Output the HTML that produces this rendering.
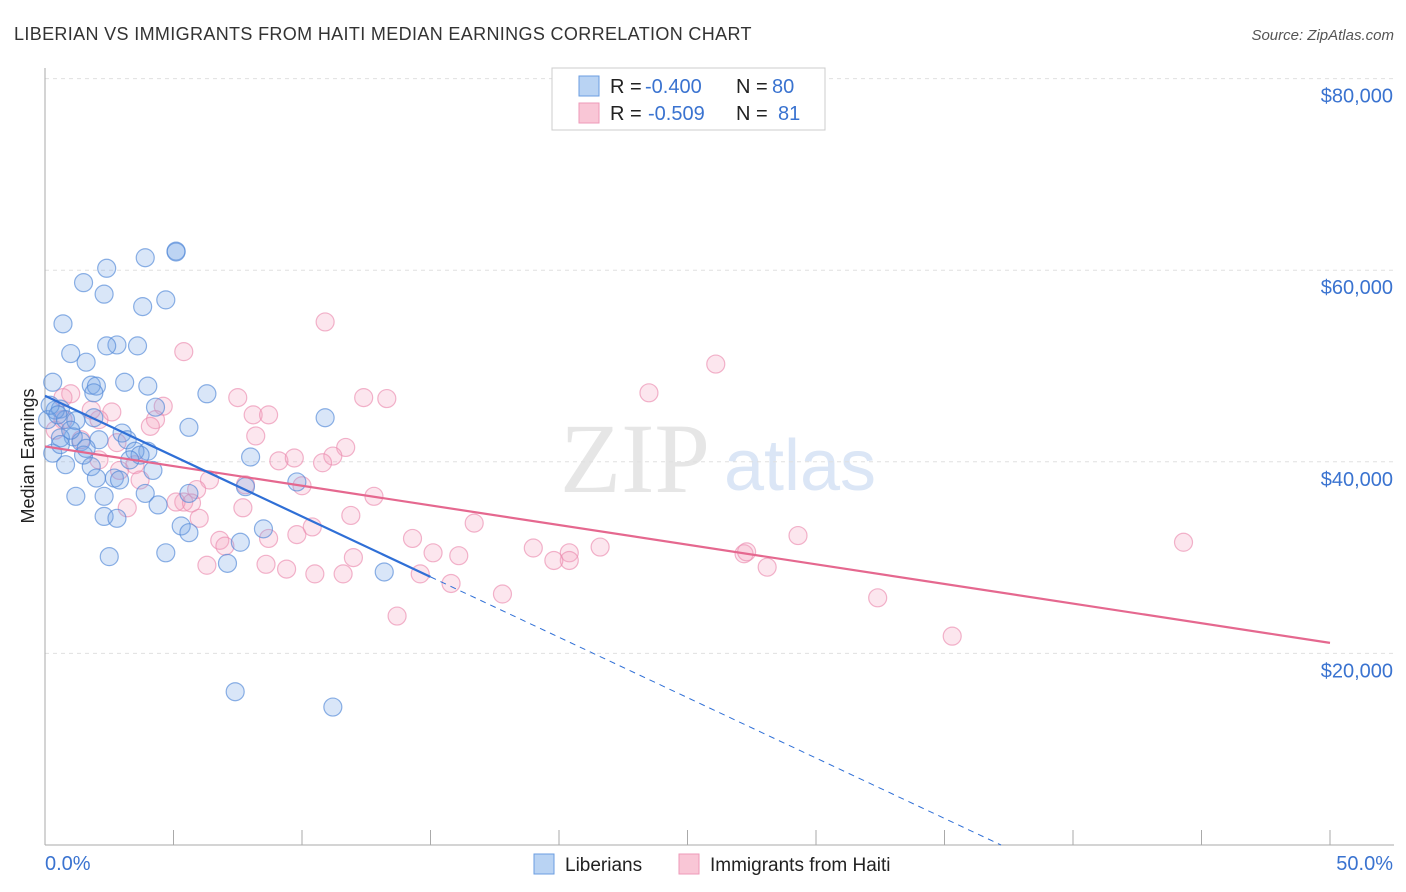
<!DOCTYPE html>
<html><head><meta charset="utf-8"><style>
body{margin:0;background:#fff;font-family:"Liberation Sans",sans-serif;}
svg{display:block}
</style></head><body>
<svg width="1406" height="892">
<text x="14" y="40" font-size="18" fill="#333" letter-spacing="0.35">LIBERIAN VS IMMIGRANTS FROM HAITI MEDIAN EARNINGS CORRELATION CHART</text>
<text x="1394" y="40" font-size="15" fill="#555" font-style="italic" text-anchor="end">Source: ZipAtlas.com</text>
<text x="635" y="492" font-size="100" font-family="Liberation Serif,serif" fill="#e6e6e6" text-anchor="middle">ZIP</text>
<text x="800" y="490" font-size="72" fill="#dbe6f6" text-anchor="middle">atlas</text>
<g id="grid"></g>
<g id="axes"></g>
<g id="marks"></g>
<text transform="translate(34,456) rotate(-90)" font-size="18" fill="#222" text-anchor="middle">Median Earnings</text>
<g>
<rect x="552" y="68" width="273" height="62" fill="#fff" stroke="#ccc"/>
<rect x="579" y="76" width="20" height="20" fill="#b9d3f3" stroke="#6b9ee0"/>
<rect x="579" y="103" width="20" height="20" fill="#f9c6d6" stroke="#ee9ab8"/>
<text x="610" y="93" font-size="20" fill="#222">R =</text>
<text x="645" y="93" font-size="20" fill="#3a73d0">-0.400</text>
<text x="736" y="93" font-size="20" fill="#222">N =</text>
<text x="772" y="93" font-size="20" fill="#3a73d0">80</text>
<text x="610" y="120" font-size="20" fill="#222">R =</text>
<text x="648" y="120" font-size="20" fill="#3a73d0">-0.509</text>
<text x="736" y="120" font-size="20" fill="#222">N =</text>
<text x="778" y="120" font-size="20" fill="#3a73d0">81</text>
</g>
<g>
<rect x="534" y="854" width="20" height="20" fill="#b9d3f3" stroke="#6b9ee0"/>
<text x="565" y="871" font-size="19" fill="#222">Liberians</text>
<rect x="679" y="854" width="20" height="20" fill="#f9c6d6" stroke="#ee9ab8"/>
<text x="710" y="871" font-size="19" fill="#222">Immigrants from Haiti</text>
</g>
</svg>
<script>
const yTicks=[20000,40000,60000,80000];
const yTickLabels=["$20,000","$40,000","$60,000","$80,000"];
const xTicks=[0,5,10,15,20,25,30,35,40,45,50];
const xEndLabels=["0.0%","50.0%"];
const bluePct=[5.1,5.1,3.9,2.4,1.5,2.3,3.8,4.7,0.7,2.8,3.6,2.4,1.0,1.6,0.3,1.8,2.0,3.1,4.0,1.9,6.3,4.3,0.6,10.9,5.6,1.9,0.8,0.1,1.2,3.0,4.0,3.2,1.1,1.4,0.6,3.5,3.7,8.0,0.3,1.5,0.8,1.8,4.2,2.7,2.0,2.9,9.8,7.8,5.6,3.9,1.2,2.3,4.4,2.3,2.8,5.3,8.5,5.6,7.6,4.7,2.5,7.1,13.2,7.4,11.2,0.4,0.2,0.5,1.0,2.1,3.3,0.6,1.6];
const blueVal=[62.0,61.9,61.3,60.2,58.7,57.5,56.2,56.9,54.4,52.2,52.1,52.1,51.3,50.4,48.3,48.0,47.9,48.3,47.9,47.2,47.1,45.7,45.5,44.6,43.6,44.6,44.4,44.4,44.3,43.0,41.1,42.3,42.6,42.1,42.5,41.1,40.7,40.5,40.9,40.7,39.7,39.5,39.1,38.3,38.3,38.1,37.9,37.4,36.7,36.7,36.4,36.4,35.5,34.3,34.1,33.3,33.0,32.6,31.6,30.5,30.1,29.4,28.5,16.0,14.4,45.4,45.9,44.9,43.3,42.3,40.2,41.8,41.4];
const pinkPct=[10.9,5.4,26.1,23.5,12.4,13.3,7.5,8.1,8.7,2.6,4.6,4.3,1.0,0.7,2.1,4.1,8.2,11.7,11.2,10.8,9.1,9.7,2.8,3.5,6.4,7.8,10.0,5.9,5.4,5.1,5.7,12.8,7.7,6.0,3.2,11.9,16.7,8.7,6.8,9.8,7.0,10.4,14.3,15.1,16.1,19.0,20.4,20.4,21.6,19.8,27.2,27.3,29.3,44.3,12.0,6.3,8.6,9.4,10.5,11.6,14.6,15.8,28.1,17.8,32.4,13.7,35.3,0.7,1.8,0.4,1.4,2.1,2.9,3.7];
const pinkVal=[54.6,51.5,50.2,47.2,46.7,46.6,46.7,44.9,44.9,45.2,45.8,44.4,47.1,46.7,44.4,43.7,42.7,41.5,40.6,39.9,40.1,40.4,42.0,39.7,38.1,37.6,37.5,37.1,35.8,35.8,35.7,36.4,35.2,34.1,35.2,34.4,33.6,32.0,31.8,32.4,31.2,33.2,32.0,30.5,30.2,31.0,30.5,29.7,31.1,29.7,30.4,30.6,32.3,31.6,30.0,29.2,29.3,28.8,28.3,28.3,28.3,27.3,29.0,26.2,25.8,23.9,21.8,44.4,45.4,43.3,42.3,40.2,39.1,38.1];
const blueTrend=[46.9,0];
const blueTrendX=[0,37.2];
const blueSolidEnd=15;
const pinkTrend=[41.6,21.1];
const pinkTrendX=[0,50];

const NS="http://www.w3.org/2000/svg";
const X=p=>45+p*25.7;
const Y=v=>845-v*0.00958;
const Yk=v=>Y(v*1000);
function mk(tag,attrs,parent){const e=document.createElementNS(NS,tag);for(const k in attrs)e.setAttribute(k,attrs[k]);parent.appendChild(e);return e;}
const grid=document.getElementById('grid'),axes=document.getElementById('axes'),marks=document.getElementById('marks');
yTicks.forEach((t,i)=>{
  const g=mk('line',{x1:45,x2:1394,y1:Y(t),y2:Y(t),stroke:'#e0e0e0','stroke-dasharray':'4,4'},grid);
  
  
  const tx=mk('text',{x:1393,y:Y(t)+24,'font-size':20,fill:'#3a73d0','text-anchor':'end'},axes);
  tx.textContent=yTickLabels[i];
  
  
});
mk('line',{x1:45,x2:45,y1:68,y2:845,stroke:'#aaa'},axes);
mk('line',{x1:45,x2:1394,y1:845,y2:845,stroke:'#aaa'},axes);
xTicks.forEach(t=>{
  const l=mk('line',{x1:X(t),x2:X(t),y1:830,y2:845,stroke:'#aaa'},axes);
  
  
});
[[0,'start',45],[1,'end',1393]].forEach(([i,a,x])=>{
  const t=mk('text',{x:x,y:870,'font-size':20,fill:'#3a73d0','text-anchor':a},axes);
  t.textContent=xEndLabels[i];
  
  
});
pinkPct.forEach((p,i)=>{
  const c=mk('circle',{cx:X(p),cy:Yk(pinkVal[i]),r:9,fill:'rgba(244,165,195,0.28)',stroke:'rgba(235,140,175,0.65)','stroke-width':1.2},marks);
  
  
});
bluePct.forEach((p,i)=>{
  const c=mk('circle',{cx:X(p),cy:Yk(blueVal[i]),r:9,fill:'rgba(120,165,230,0.28)',stroke:'rgba(80,135,215,0.65)','stroke-width':1.2},marks);
  
  
});
const bv=x=>blueTrend[0]+(blueTrend[1]-blueTrend[0])*(x-blueTrendX[0])/(blueTrendX[1]-blueTrendX[0]);
const pl=mk('line',{x1:X(pinkTrendX[0]),y1:Yk(pinkTrend[0]),x2:X(pinkTrendX[1]),y2:Yk(pinkTrend[1]),stroke:'#e5688f','stroke-width':2.2},marks);


const bs=mk('line',{x1:X(0),y1:Yk(bv(0)),x2:X(blueSolidEnd),y2:Yk(bv(blueSolidEnd)),stroke:'#2f6fd6','stroke-width':2.2},marks);


const bd=mk('line',{x1:X(blueSolidEnd),y1:Yk(bv(blueSolidEnd)),x2:X(blueTrendX[1]),y2:Yk(bv(blueTrendX[1])),stroke:'#2f6fd6','stroke-width':1,'stroke-dasharray':'6,5'},marks);


</script>
</body></html>
